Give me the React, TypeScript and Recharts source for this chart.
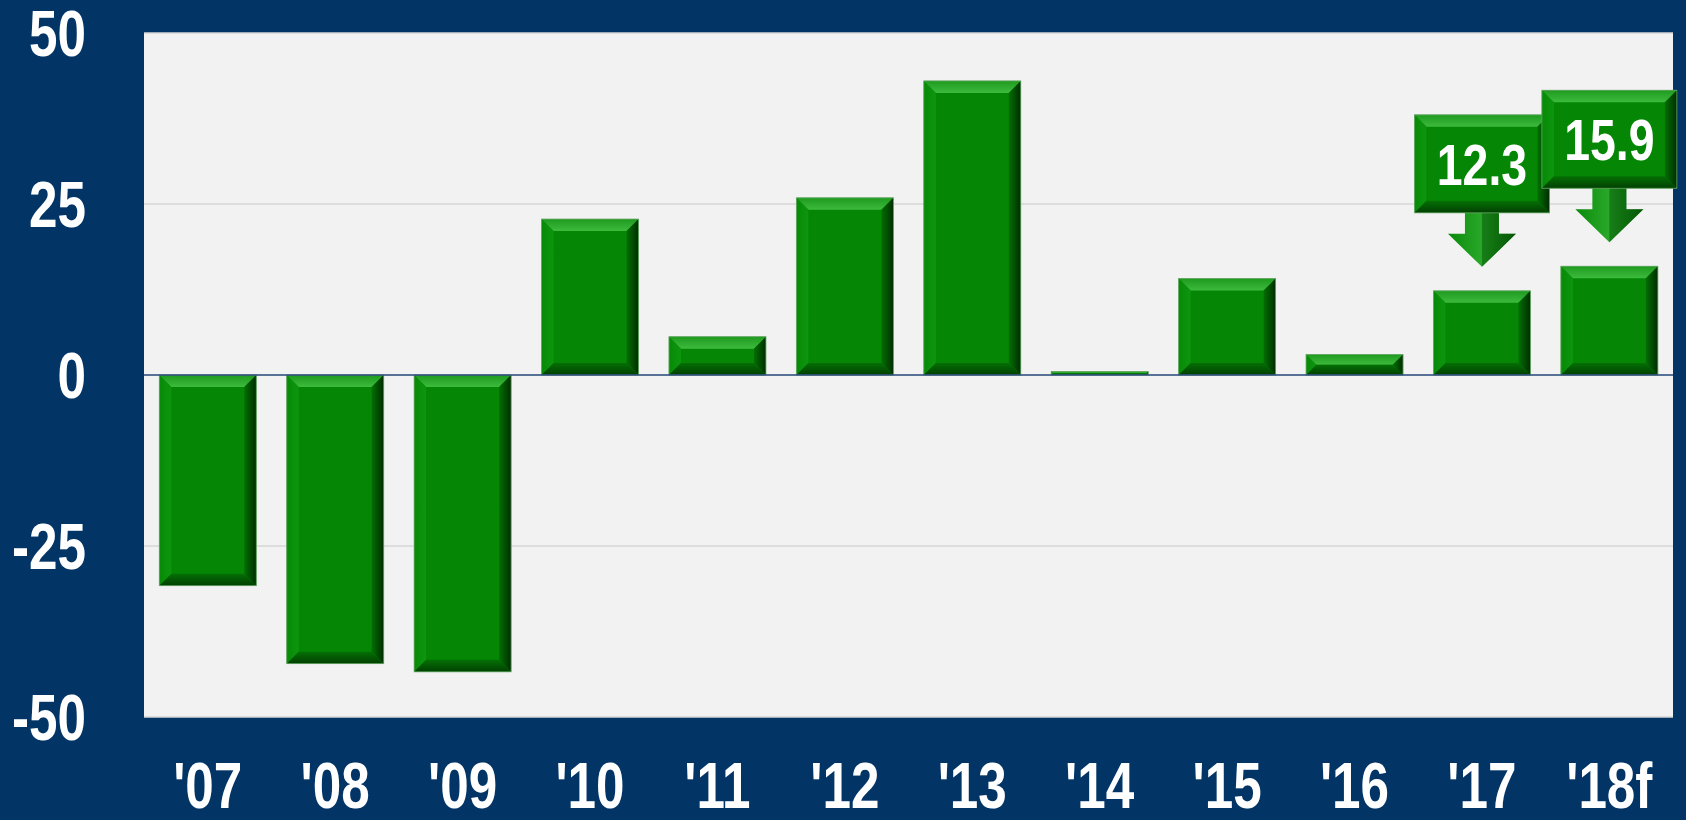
import React from 'react'
import {
  BarChart,
  Bar,
  XAxis,
  YAxis,
  CartesianGrid,
  ReferenceLine,
  LabelList
} from 'recharts'

// data
const YEARS = ["'07", "'08", "'09", "'10", "'11", "'12", "'13", "'14", "'15", "'16", "'17", "'18f"]
const VALUES = [-30.8, -42.2, -43.4, 22.8, 5.6, 25.9, 43.0, 0.5, 14.1, 3.0, 12.3, 15.9]
const Y_TICKS = [-50, -25, 0, 25, 50]
const CALLOUT_YEARS = ["'17", "'18f"]

const chartData = YEARS.map((year, i) => ({ year, value: VALUES[i] }))

const NAVY = '#023466'
const FONT = "'Liberation Sans', Arial, sans-serif"

// no narrow font installed, so squeeze the bold sans horizontally
const NarrowText = ({ x, y, anchor = 'middle', size, children }: any) => (
  <text
    transform={`translate(${x} ${y}) scale(0.8 1)`}
    x={0}
    y={0}
    textAnchor={anchor}
    fill="#ffffff"
    fontFamily={FONT}
    fontWeight="bold"
    fontSize={size}
  >
    {children}
  </text>
)

// bar with a bevelled edge, like the office chart
const BevelBox = ({ x, y, width, height, b = 12 }: any) => {
  const top = Math.min(y, y + height)
  const h = Math.abs(height)
  const w = width
  const e = Math.min(b, h / 2, w / 2)
  if (h <= 0) return null
  return (
    <g>
      <rect x={x} y={top} width={w} height={h} fill="#058605" />
      <polygon
        points={`${x},${top} ${x + w},${top} ${x + w - e},${top + e} ${x + e},${top + e}`}
        fill="url(#bevTop)"
      />
      <polygon
        points={`${x},${top} ${x + e},${top + e} ${x + e},${top + h - e} ${x},${top + h}`}
        fill="url(#bevLeft)"
      />
      <polygon
        points={`${x + w},${top} ${x + w},${top + h} ${x + w - e},${top + h - e} ${x + w - e},${top + e}`}
        fill="url(#bevRight)"
      />
      <polygon
        points={`${x},${top + h} ${x + w},${top + h} ${x + w - e},${top + h - e} ${x + e},${top + h - e}`}
        fill="url(#bevBottom)"
      />
      <rect x={x} y={top} width={w} height={h} fill="none" stroke="#6aa86a" strokeWidth={0.8} />
    </g>
  )
}

const renderBar = (props: any) => <BevelBox {...props} />

// "12.3" style callout pointing down at the bar
const renderCallout = (props: any) => {
  const { x, y, width, index } = props
  const year = YEARS[index]
  if (!CALLOUT_YEARS.includes(year)) return null
  const cx = x + width / 2
  const tip = y - 24
  const headTop = y - 57
  const boxBottom = y - 78
  const boxTop = y - 176
  const boxW = 135
  return (
    <g>
      <polygon
        points={`${cx - 17},${boxBottom - 8} ${cx + 17},${boxBottom - 8} ${cx + 17},${headTop} ${cx + 34},${headTop} ${cx},${tip} ${cx - 34},${headTop} ${cx - 17},${headTop}`}
        fill="url(#arrowFill)"
      />
      <polygon
        points={`${cx},${boxBottom - 8} ${cx + 17},${boxBottom - 8} ${cx + 17},${headTop} ${cx + 34},${headTop} ${cx},${tip}`}
        fill="#035503"
        opacity={0.5}
      />
      <BevelBox x={cx - boxW / 2} y={boxTop} width={boxW} height={boxBottom - boxTop} b={12} />
      <NarrowText x={cx} y={(boxTop + boxBottom) / 2 + 21} size={58}>
        {VALUES[index]}
      </NarrowText>
    </g>
  )
}

const XTick = ({ x, y, payload }: any) => (
  <NarrowText x={x} y={y + 83} size={64}>
    {payload.value}
  </NarrowText>
)

const YTick = ({ y, payload }: any) => (
  <NarrowText x={86} y={y + 23} anchor="end" size={64}>
    {payload.value}
  </NarrowText>
)

export default function App() {
  return (
    <div style={{ position: 'absolute', left: 0, top: 0, width: 1686, height: 820, background: NAVY }}>
      <BarChart
        width={1686}
        height={820}
        data={chartData}
        margin={{ top: 33, right: 13, left: 0, bottom: 0 }}
        barCategoryGap="12%"
      >
        <defs>
          <linearGradient id="bevTop" x1="0" y1="0" x2="0" y2="1">
            <stop offset="0%" stopColor="#1f9a1f" />
            <stop offset="100%" stopColor="#3dbb3d" />
          </linearGradient>
          <linearGradient id="bevLeft" x1="0" y1="0" x2="1" y2="0">
            <stop offset="0%" stopColor="#078a07" />
            <stop offset="100%" stopColor="#0e960e" />
          </linearGradient>
          <linearGradient id="bevRight" x1="0" y1="0" x2="1" y2="0">
            <stop offset="0%" stopColor="#036f03" />
            <stop offset="100%" stopColor="#012d01" />
          </linearGradient>
          <linearGradient id="bevBottom" x1="0" y1="0" x2="0" y2="1">
            <stop offset="0%" stopColor="#047004" />
            <stop offset="100%" stopColor="#023f02" />
          </linearGradient>
          <linearGradient id="arrowFill" x1="0" y1="0" x2="1" y2="0">
            <stop offset="0%" stopColor="#0a8a0a" />
            <stop offset="50%" stopColor="#2aa82a" />
            <stop offset="100%" stopColor="#045a04" />
          </linearGradient>
        </defs>
        <CartesianGrid vertical={false} stroke="#d6d6d6" strokeWidth={1.5} fill="#f2f2f2" />
        <XAxis
          dataKey="year"
          axisLine={false}
          tickLine={false}
          height={103}
          interval={0}
          tick={<XTick />}
        />
        <YAxis
          domain={[-50, 50]}
          ticks={Y_TICKS}
          axisLine={false}
          tickLine={false}
          width={144}
          tick={<YTick />}
        />
        <ReferenceLine y={0} stroke="#2b4c7e" strokeWidth={1.5} />
        <Bar dataKey="value" shape={renderBar} isAnimationActive={false}>
          <LabelList dataKey="value" content={renderCallout} />
        </Bar>
      </BarChart>
    </div>
  )
}
